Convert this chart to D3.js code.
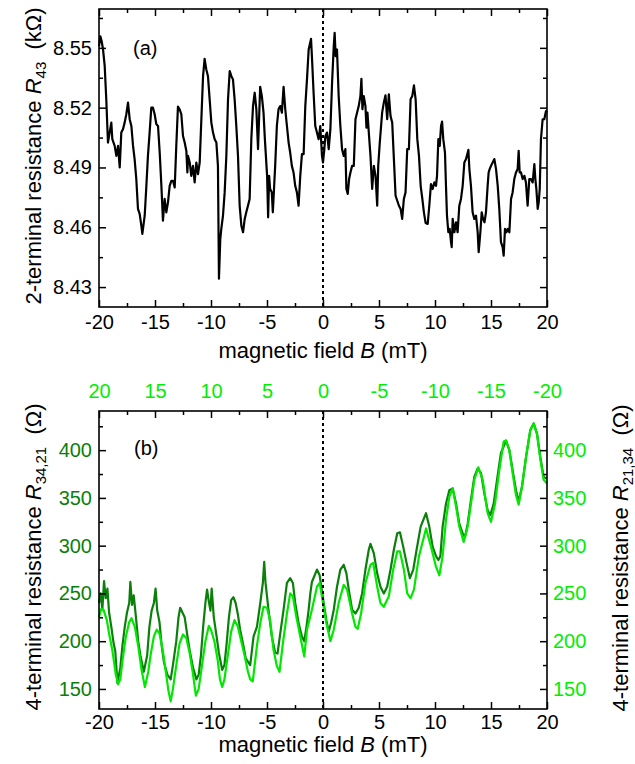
<!DOCTYPE html>
<html><head><meta charset="utf-8">
<script src="https://cdn.jsdelivr.net/npm/d3@7"></script>
<style>
body{margin:0;background:#fff}
svg{display:block}
text{font-family:"Liberation Sans",Arial,Helvetica,sans-serif}
</style>
</head><body>
<svg id="c" width="635" height="764"></svg>
<script>
// ---------- Panel (a): 2-terminal resistance R43 (kOhm) vs B (mT) ----------
const topB = [-20.00,-19.88,-19.76,-19.64,-19.49,-19.35,-19.20,-19.05,-18.90,-18.81,-18.60,-18.45,-18.30,-18.15,-18.01,-17.86,-17.71,-17.56,-17.41,-17.26,-17.11,-16.96,-16.82,-16.67,-16.52,-16.37,-16.22,-16.13,-15.92,-15.77,-15.63,-15.48,-15.33,-15.18,-15.03,-14.88,-14.73,-14.58,-14.43,-14.29,-14.14,-13.99,-13.84,-13.69,-13.54,-13.39,-13.24,-13.10,-12.95,-12.80,-12.65,-12.50,-12.35,-12.20,-12.11,-12.05,-11.90,-11.76,-11.61,-11.46,-11.31,-11.16,-11.01,-10.86,-10.71,-10.57,-10.42,-10.27,-10.12,-9.97,-9.82,-9.67,-9.52,-9.38,-9.29,-9.17,-9.08,-8.93,-8.78,-8.63,-8.48,-8.33,-8.18,-8.04,-7.89,-7.74,-7.59,-7.44,-7.29,-7.14,-6.99,-6.85,-6.70,-6.55,-6.40,-6.25,-6.10,-5.95,-5.80,-5.61,-5.46,-5.31,-5.19,-4.99,-4.90,-4.81,-4.72,-4.57,-4.48,-4.36,-4.27,-4.12,-3.97,-3.82,-3.67,-3.52,-3.37,-3.22,-3.07,-2.93,-2.78,-2.63,-2.48,-2.33,-2.18,-2.03,-1.88,-1.73,-1.58,-1.43,-1.28,-1.07,-0.99,-0.84,-0.69,-0.54,-0.39,-0.24,-0.09,0.00,0.12,0.21,0.36,0.51,0.66,0.81,0.96,1.04,1.13,1.25,1.40,1.55,1.70,1.85,2.00,2.09,2.21,2.33,2.45,2.60,2.75,2.90,3.04,3.19,3.34,3.43,3.52,3.64,3.79,3.88,3.97,4.09,4.24,4.39,4.54,4.69,4.84,4.93,5.07,5.28,5.43,5.58,5.73,5.88,6.03,6.18,6.33,6.48,6.63,6.78,6.93,7.07,7.22,7.37,7.52,7.67,7.82,7.97,8.12,8.27,8.42,8.57,8.72,8.87,9.01,9.16,9.35,9.49,9.64,9.79,9.94,10.09,10.18,10.30,10.42,10.54,10.63,10.74,10.89,10.98,11.07,11.19,11.31,11.43,11.49,11.58,11.73,11.88,12.02,12.17,12.32,12.47,12.62,12.77,12.98,13.07,13.21,13.36,13.51,13.66,13.81,13.90,14.05,14.17,14.29,14.42,14.55,14.70,14.79,14.88,15.00,15.15,15.30,15.45,15.60,15.74,15.89,16.04,16.13,16.25,16.37,16.49,16.64,16.79,16.93,17.08,17.23,17.38,17.47,17.56,17.68,17.83,17.98,18.12,18.27,18.42,18.57,18.72,18.87,18.96,19.05,19.17,19.26,19.35,19.46,19.61,19.76,19.91,20.00];
const topR = [8.5508,8.5558,8.5533,8.5492,8.5408,8.5242,8.5025,8.5075,8.5125,8.5042,8.5008,8.4958,8.5008,8.4900,8.5075,8.5092,8.5125,8.5167,8.5225,8.5142,8.5108,8.5008,8.4942,8.4842,8.4692,8.4667,8.4608,8.4567,8.4658,8.4808,8.4958,8.5075,8.5200,8.5200,8.5167,8.5117,8.5108,8.4975,8.4808,8.4633,8.4742,8.4675,8.4725,8.4808,8.4833,8.4833,8.4800,8.5008,8.5205,8.5192,8.5167,8.5058,8.5025,8.4983,8.4875,8.4958,8.4925,8.4858,8.4908,8.4825,8.4925,8.4867,8.4925,8.5142,8.5358,8.5445,8.5392,8.5358,8.5242,8.5125,8.5075,8.5042,8.5025,8.4908,8.4342,8.4542,8.4592,8.4658,8.4775,8.4958,8.5242,8.5383,8.5358,8.5342,8.5242,8.5108,8.4958,8.4708,8.4608,8.4575,8.4642,8.4675,8.4708,8.4742,8.5042,8.5208,8.5275,8.5192,8.4992,8.5305,8.5258,8.5175,8.5042,8.4858,8.4650,8.4858,8.4792,8.4775,8.4675,8.4808,8.4908,8.5108,8.5192,8.5208,8.5175,8.5305,8.5192,8.5108,8.5025,8.4975,8.4908,8.4875,8.4808,8.4775,8.4708,8.4858,8.4967,8.4967,8.5208,8.5342,8.5492,8.5545,8.5458,8.5275,8.5108,8.5075,8.5042,8.5108,8.4958,8.4925,8.4992,8.5058,8.5075,8.4992,8.5092,8.5325,8.5508,8.5575,8.5458,8.5492,8.5258,8.5108,8.4992,8.4958,8.4992,8.4792,8.4767,8.4842,8.4875,8.4908,8.4908,8.5142,8.5175,8.5208,8.5258,8.5345,8.5192,8.5258,8.5208,8.5100,8.5175,8.5075,8.4958,8.4792,8.4908,8.4858,8.4708,8.4908,8.5025,8.5175,8.5225,8.5262,8.5142,8.5267,8.5158,8.5125,8.4942,8.4758,8.4733,8.4708,8.4692,8.4642,8.4742,8.4775,8.4992,8.4992,8.5242,8.5258,8.5312,8.5242,8.5042,8.4958,8.4808,8.4742,8.4675,8.4622,8.4617,8.4708,8.4817,8.4792,8.4825,8.4808,8.4858,8.5042,8.5008,8.5108,8.5130,8.5042,8.4975,8.4808,8.4658,8.4575,8.4592,8.4525,8.4500,8.4642,8.4575,8.4625,8.4575,8.4708,8.4742,8.4808,8.4925,8.4942,8.4988,8.4892,8.4808,8.4675,8.4642,8.4658,8.4575,8.4475,8.4575,8.4675,8.4642,8.4625,8.4675,8.4808,8.4875,8.4892,8.4908,8.4925,8.4942,8.4892,8.4808,8.4692,8.4525,8.4500,8.4458,8.4592,8.4575,8.4592,8.4575,8.4742,8.4775,8.4842,8.4875,8.4892,8.4983,8.4875,8.4875,8.4842,8.4858,8.4825,8.4708,8.4842,8.4842,8.4825,8.4917,8.4842,8.4792,8.4692,8.4725,8.4792,8.5042,8.5142,8.5142,8.5183,8.5175];
const topYTicks = [8.43, 8.46, 8.49, 8.52, 8.55];
const xTicks = [-20, -15, -10, -5, 0, 5, 10, 15, 20];

// ---------- Panel (b): 4-terminal resistances (Ohm) ----------
// R34,21 vs B (bottom axis)
const darkB = [-20.0,-19.85,-19.7,-19.55,-19.4,-19.25,-19.1,-18.9,-18.7,-18.55,-18.35,-18.1,-17.9,-17.7,-17.5,-17.3,-17.2,-17.05,-16.9,-16.7,-16.5,-16.3,-16.0,-15.7,-15.5,-15.3,-15.1,-14.95,-14.8,-14.6,-14.4,-14.2,-13.9,-13.6,-13.4,-13.1,-12.9,-12.75,-12.55,-12.35,-12.1,-11.9,-11.6,-11.3,-11.1,-10.9,-10.7,-10.5,-10.35,-10.2,-10.05,-9.94,-9.75,-9.5,-9.3,-9.0,-8.8,-8.6,-8.4,-8.2,-8.0,-7.8,-7.6,-7.4,-7.1,-6.9,-6.5,-6.2,-5.9,-5.6,-5.37,-5.25,-5.13,-4.87,-4.57,-4.27,-4.06,-3.82,-3.52,-3.22,-2.93,-2.69,-2.48,-2.18,-1.88,-1.67,-1.43,-1.28,-1.13,-0.99,-0.78,-0.54,-0.30,-0.15,0.06,0.30,0.51,0.72,0.96,1.25,1.55,1.85,2.09,2.30,2.60,2.90,3.19,3.49,3.79,4.09,4.24,4.54,4.84,5.13,5.43,5.73,6.03,6.33,6.63,6.87,7.16,7.46,7.76,8.06,8.36,8.72,9.2,9.49,9.79,10.09,10.30,10.48,10.68,10.98,11.28,11.58,11.88,12.17,12.47,12.68,12.92,13.21,13.51,13.81,14.11,14.40,14.70,14.94,15.24,15.54,15.89,16.34,16.64,16.93,17.23,17.47,17.77,18.13,18.51,18.81,19.11,19.40,19.70,20.0];
const darkR = [240,250,233,263,245,255,230,215,198,190,156,172,196,215,230,240,262,238,248,225,200,185,168,185,215,232,240,255,232,220,195,178,165,160,175,200,225,235,230,225,205,190,172,160,165,185,215,240,254,242,232,255,225,205,188,170,175,198,225,243,246,240,228,212,195,182,175,205,215,240,261,283,261,233,205,188,187,208,233,261,266,261,240,219,205,200,219,233,250,262,268,275,269,257,240,222,210,219,233,257,275,280,271,254,233,229,235,250,275,296,302,292,271,257,250,257,275,296,313,314,299,282,266,275,296,320,334,320,299,289,285,289,320,344,358,360,344,323,313,309,323,348,372,381,376,355,337,332,344,369,397,410,400,379,358,346,362,393,421,428,417,393,372,370];
// R21,34 vs reversed field (top axis values)
const lightB = [20.0,19.8,19.6,19.3,19.1,18.8,18.5,18.3,18.1,17.9,17.6,17.3,17.1,16.8,16.5,16.2,15.9,15.6,15.4,15.1,14.85,14.6,14.3,14.0,13.8,13.6,13.4,13.1,12.8,12.5,12.2,11.9,11.6,11.35,11.1,10.8,10.5,10.2,10.0,9.7,9.4,9.2,9.0,8.8,8.5,8.2,7.9,7.6,7.3,7.0,6.7,6.5,6.27,5.9,5.6,5.31,5.01,4.72,4.42,4.12,3.88,3.58,3.22,2.93,2.69,2.39,2.03,1.67,1.43,0.99,0.54,0.30,0.0,-0.30,-0.66,-0.96,-1.40,-1.85,-2.15,-2.60,-2.90,-3.10,-3.40,-3.79,-4.24,-4.48,-4.84,-5.13,-5.43,-5.88,-6.27,-6.63,-6.87,-7.22,-7.52,-7.82,-8.12,-8.57,-9.2,-9.64,-10.09,-10.39,-10.68,-10.98,-11.28,-11.58,-11.88,-12.17,-12.56,-12.92,-13.21,-13.51,-13.87,-14.26,-14.70,-15.0,-15.36,-15.74,-16.13,-16.34,-16.64,-16.93,-17.23,-17.47,-17.77,-18.13,-18.51,-18.81,-19.11,-19.40,-19.70,-20.0];
const lightR = [225,234,233,222,208,190,165,155,160,180,205,220,224,215,195,170,152,168,185,205,212,208,190,165,148,137,150,175,198,207,203,187,165,143,150,175,200,216,212,200,180,160,152,160,185,210,222,215,200,185,168,160,158,195,219,236,235,222,191,174,168,198,229,250,247,226,205,184,212,233,257,261,240,219,200,212,240,259,254,229,215,213,229,261,280,282,257,240,236,247,275,294,294,275,250,245,254,289,318,299,278,269,289,327,351,360,341,320,304,320,344,369,382,369,334,325,344,379,409,410,400,376,353,343,362,393,421,428,417,391,369,365];
const botYTicks = [150, 200, 250, 300, 350, 400];
const topAxisTicks = [20, 15, 10, 5, 0, -5, -10, -15, -20];

// ---------- drawing ----------
const svg = d3.select("#c");
const DARK = "#0a800a", LIME = "#00e800", LIMET = "#00ee00";
const L = 99, R = 547;
const fmtInt = d => String(d);

function minorRange(a, b, step) { const o = []; for (let v = a; v <= b + 1e-9; v += step) o.push(+v.toFixed(4)); return o; }

function frameAxes(g, x, y, top, bottom, opts) {
  const minorX = minorRange(-17.5, 17.5, 5);
  g.append("g").attr("transform", `translate(0,${bottom})`)
    .call(d3.axisBottom(x).tickValues(xTicks).tickFormat(fmtInt).tickSizeInner(-7).tickSizeOuter(0).tickPadding(opts.xPad))
    .call(a => a.select(".domain").remove())
    .call(a => a.selectAll("text").attr("font-size", 20).attr("fill", "#000"));
  g.append("g").attr("transform", `translate(0,${bottom})`)
    .call(d3.axisBottom(x).tickValues(minorX).tickFormat("").tickSizeInner(-4).tickSizeOuter(0))
    .call(a => a.select(".domain").remove());
  g.append("g").attr("transform", `translate(0,${top})`)
    .call(d3.axisTop(opts.xTop || x).tickValues(opts.xTop ? topAxisTicks : xTicks).tickFormat(opts.xTop ? fmtInt : "").tickSizeInner(-7).tickSizeOuter(0).tickPadding(13))
    .call(a => a.select(".domain").remove())
    .call(a => a.selectAll("text").attr("font-size", 20).attr("fill", LIMET));
  g.append("g").attr("transform", `translate(0,${top})`)
    .call(d3.axisTop(x).tickValues(minorX).tickFormat("").tickSizeInner(-4).tickSizeOuter(0))
    .call(a => a.select(".domain").remove());
  g.append("g").attr("transform", `translate(${L},0)`)
    .call(d3.axisLeft(y).tickValues(opts.yTicks).tickFormat(opts.yFmt).tickSizeInner(-7).tickSizeOuter(0).tickPadding(7))
    .call(a => a.select(".domain").remove())
    .call(a => a.selectAll("text").attr("font-size", 20).attr("fill", opts.leftColor));
  g.append("g").attr("transform", `translate(${L},0)`)
    .call(d3.axisLeft(y).tickValues(opts.yMinor).tickFormat("").tickSizeInner(-4).tickSizeOuter(0))
    .call(a => a.select(".domain").remove());
  g.append("g").attr("transform", `translate(${R},0)`)
    .call(d3.axisRight(y).tickValues(opts.yTicks).tickFormat(opts.rightLabels ? opts.yFmt : "").tickSizeInner(-7).tickSizeOuter(0).tickPadding(6))
    .call(a => a.select(".domain").remove())
    .call(a => a.selectAll("text").attr("font-size", 20).attr("fill", LIMET));
  g.append("g").attr("transform", `translate(${R},0)`)
    .call(d3.axisRight(y).tickValues(opts.yMinor).tickFormat("").tickSizeInner(-4).tickSizeOuter(0))
    .call(a => a.select(".domain").remove());
  g.selectAll(".tick line").attr("stroke", "#000").attr("stroke-width", 1.5);
  g.append("rect").attr("x", L).attr("y", top).attr("width", R - L).attr("height", bottom - top)
    .attr("fill", "none").attr("stroke", "#000").attr("stroke-width", 1.6);
  g.append("line").attr("x1", x(0)).attr("x2", x(0)).attr("y1", top).attr("y2", bottom)
    .attr("stroke", "#000").attr("stroke-width", 2).attr("stroke-dasharray", "3,3");
}

// ---- panel a ----
const ga = svg.append("g");
const xa = d3.scaleLinear().domain([-20, 20]).range([L, R]);
const ya = d3.scaleLinear().domain([8.42, 8.5695]).range([307, 9]);
const lineA = d3.line().x(d => xa(d[0])).y(d => ya(d[1]));
ga.append("path").datum(d3.zip(topB, topR)).attr("d", lineA)
  .attr("fill", "none").attr("stroke", "#000").attr("stroke-width", 2.2).attr("stroke-linejoin", "round");
frameAxes(ga, xa, ya, 9, 307, {
  xPad: 8, yTicks: topYTicks, yFmt: d => d.toFixed(2),
  yMinor: [8.445, 8.475, 8.505, 8.535, 8.565], leftColor: "#000", rightLabels: false
});
ga.append("text").attr("x", 133).attr("y", 55).attr("font-size", 20).text("(a)");
ga.append("text").attr("x", xa(0)).attr("y", 358).attr("text-anchor", "middle").attr("font-size", 22)
  .call(t => { t.append("tspan").text("magnetic field "); t.append("tspan").attr("font-style", "italic").text("B"); t.append("tspan").text(" (mT)"); });
ga.append("text").attr("transform", "translate(41,156) rotate(-90)").attr("text-anchor", "middle").attr("font-size", 22)
  .call(t => {
    t.append("tspan").text("2-terminal resistance ");
    t.append("tspan").attr("font-style", "italic").text("R");
    t.append("tspan").attr("font-size", 15).attr("dy", 5).text("43");
    t.append("tspan").attr("dy", -5).text("\u00a0 (k\u03a9)");
  });

// ---- panel b ----
const gb = svg.append("g");
const xb = d3.scaleLinear().domain([-20, 20]).range([L, R]);
const xbTop = d3.scaleLinear().domain([20, -20]).range([L, R]);
const yb = d3.scaleLinear().domain([129, 441]).range([709, 411]);
gb.append("path").datum(d3.zip(darkB, darkR))
  .attr("d", d3.line().x(d => xb(d[0])).y(d => yb(d[1])))
  .attr("fill", "none").attr("stroke", DARK).attr("stroke-width", 2.2).attr("stroke-linejoin", "round");
gb.append("path").datum(d3.zip(lightB, lightR))
  .attr("d", d3.line().x(d => xbTop(d[0])).y(d => yb(d[1])))
  .attr("fill", "none").attr("stroke", LIME).attr("stroke-width", 2.2).attr("stroke-linejoin", "round");
frameAxes(gb, xb, yb, 411, 709, {
  xPad: 6, xTop: xbTop, yTicks: botYTicks, yFmt: fmtInt,
  yMinor: [175, 225, 275, 325, 375, 425], leftColor: DARK, rightLabels: true
});
gb.append("text").attr("x", 134).attr("y", 455).attr("font-size", 20).text("(b)");
gb.append("text").attr("x", xb(0)).attr("y", 752).attr("text-anchor", "middle").attr("font-size", 22)
  .call(t => { t.append("tspan").text("magnetic field "); t.append("tspan").attr("font-style", "italic").text("B"); t.append("tspan").text(" (mT)"); });
function rTitle(g, tx, ty, sub) {
  g.append("text").attr("transform", `translate(${tx},${ty}) rotate(-90)`).attr("text-anchor", "middle").attr("font-size", 22)
    .call(t => {
      t.append("tspan").text("4-terminal resistance ");
      t.append("tspan").attr("font-style", "italic").text("R");
      t.append("tspan").attr("font-size", 15).attr("dy", 5).text(sub);
      t.append("tspan").attr("dy", -5).text("\u00a0 (\u03a9)");
    });
}
rTitle(gb, 41, 557, "34,21");
rTitle(gb, 628, 558, "21,34");
</script>
</body></html>
